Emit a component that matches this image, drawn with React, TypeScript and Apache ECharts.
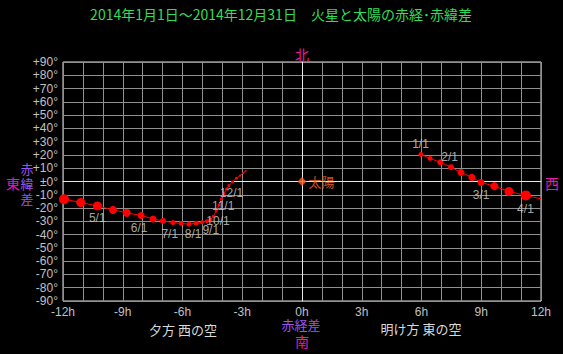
import React, { useEffect, useRef } from "react";
import * as echarts from "echarts";

// Morning sky (east): 2014/1/1 .. 4/1, every 10 days, plus edge wrap point
const morningX = [5.97, 6.43, 6.95, 7.48, 7.98, 8.53, 8.99, 9.66, 10.39, 11.24, 12];
const morningY = [20.4, 17.4, 14.4, 10.8, 6.8, 3.1, -0.7, -3.5, -7.5, -10.5, -13.1];
const morningDiam = [5, 5, 6, 6, 7, 7, 7, 8, 9, 10, 0];

// Evening sky (west): 2014/4/11 .. 12/27, every 10 days
const eveningX = [
  -11.95, -11.11, -10.27, -9.49, -8.8, -8.08, -7.48, -6.98, -6.48, -6.07, -5.67, -5.31, -5.01, -4.78,
  -4.6, -4.45, -4.31, -4.17, -4.04, -3.92, -3.79, -3.67, -3.49, -3.29, -3.11, -2.96, -2.83,
];
const eveningY = [
  -13.3, -15.8, -18.4, -21.4, -23.6, -25.6, -28.2, -29.7, -30.9, -31.6, -32.1, -31.4, -30.7, -29.9,
  -28.6, -26.3, -22.2, -17.7, -13.2, -9.1, -5.7, -3.1, -0.3, 2.5, 4.4, 6.3, 7.8,
];
const eveningDiam = [
  10, 9, 9, 8, 8, 7, 7, 6, 5, 5, 5, 5, 4, 4,
  4, 3, 3, 3, 3, 3, 3, 3, 3, 3, 2, 2, 2,
];

// Date labels
const dateText = ["1/1", "2/1", "3/1", "4/1", "5/1", "6/1", "7/1", "8/1", "9/1", "10/1", "11/1", "12/1"];
const dateX = [5.95, 7.41, 8.99, 11.22, -10.28, -8.18, -6.64, -5.47, -4.58, -4.22, -3.96, -3.54];
const dateY = [28.2, 18.4, -9.8, -20.4, -27.5, -34.9, -39.2, -39.2, -36.7, -29.7, -18.3, -8.3];

const sunPos = [0, 0];

const xTicks = { min: -12, max: 12, step: 1, labelEvery: 3 };
const yTicks = { min: -90, max: 90, step: 10 };

const TITLE = "2014年1月1日～2014年12月31日　火星と太陽の赤経･赤緯差";

export default function App() {
  const ref = useRef<HTMLDivElement>(null);
  useEffect(() => {
    if (!ref.current) return;
    const chart = echarts.init(ref.current, undefined, { renderer: "svg" });
    const jp = "'Noto Sans CJK JP', sans-serif";
    const lat = "'Liberation Sans', Arial, sans-serif";
    const red = "#ff0000";
    const txt = (text: string, x: number, y: number, fill: string, size = 13) => ({
      type: "text",
      x,
      y,
      style: { text, fill, font: `${size}px ${jp}`, textAlign: "center", textVerticalAlign: "middle" },
      z: 100,
    });
    chart.setOption({
      animation: false,
      backgroundColor: "#000000",
      grid: { left: 63, top: 62, width: 478, height: 239, show: true, borderColor: "#e0e0e0", borderWidth: 1 },
      xAxis: {
        type: "value",
        min: xTicks.min,
        max: xTicks.max,
        interval: xTicks.step,
        axisLine: { show: true, lineStyle: { color: "#e0e0e0" } },
        axisTick: { show: false },
        splitLine: { show: true, lineStyle: { color: "#909090", width: 1 } },
        axisLabel: {
          color: "#c0c0c0",
          fontFamily: lat,
          fontSize: 12,
          margin: 5,
          formatter: (v: number) => (Math.round(v) % xTicks.labelEvery === 0 ? `${Math.round(v)}h` : ""),
        },
      },
      yAxis: {
        type: "value",
        min: yTicks.min,
        max: yTicks.max,
        interval: yTicks.step,
        axisLine: { show: true, lineStyle: { color: "#e0e0e0" } },
        axisTick: { show: false },
        splitLine: { show: true, lineStyle: { color: "#909090", width: 1 } },
        axisLabel: {
          color: "#c0c0c0",
          fontFamily: lat,
          fontSize: 12,
          margin: 5,
          formatter: (v: number) => (v > 0 ? `+${v}°` : v === 0 ? "±0°" : `${v}°`),
        },
      },
      series: [
        {
          type: "line",
          data: morningX.map((x, i) => [x, morningY[i], morningDiam[i]]),
          symbol: "circle",
          symbolSize: (v: number[]) => v[2],
          showAllSymbol: true,
          lineStyle: { color: red, width: 1 },
          itemStyle: { color: red },
          z: 5,
          markLine: {
            silent: true,
            symbol: "none",
            label: { show: false },
            lineStyle: { color: "#e8e8e8", width: 1, type: "solid" },
            data: [{ xAxis: 0 }, { yAxis: 0 }],
            z: 3,
          },
        },
        {
          type: "line",
          data: eveningX.map((x, i) => [x, eveningY[i], eveningDiam[i]]),
          symbol: "circle",
          symbolSize: (v: number[]) => v[2],
          showAllSymbol: true,
          lineStyle: { color: red, width: 1 },
          itemStyle: { color: red },
          z: 5,
        },
        {
          type: "scatter",
          data: [sunPos],
          symbol: "diamond",
          symbolSize: 9,
          itemStyle: { color: "#ff5a1e" },
          label: {
            show: true,
            position: "right",
            distance: 2,
            formatter: "太陽",
            color: "#ff6a2a",
            fontFamily: jp,
            fontSize: 13,
          },
          z: 6,
        },
        {
          type: "scatter",
          data: dateText.map((t, i) => ({ name: t, value: [dateX[i], dateY[i]] })),
          symbolSize: 0,
          label: {
            show: true,
            position: "inside",
            formatter: "{b}",
            color: "#d0d0d0",
            fontFamily: lat,
            fontSize: 12,
          },
          z: 7,
        },
      ],
      graphic: [
        txt(TITLE, 281, 14, "#33dd55", 14),
        txt("北", 302, 54, "#e619b4", 14),
        txt("南", 302, 341, "#e619b4", 14),
        txt("赤経差", 301, 324, "#9a55f0", 13),
        txt("西", 552, 183, "#e619b4", 14),
        txt("東", 13, 183, "#e619b4", 14),
        txt("赤", 27, 168, "#9a55f0", 13),
        txt("緯", 27, 183, "#9a55f0", 13),
        txt("差", 27, 198, "#9a55f0", 13),
        txt("夕方 西の空", 183, 329, "#d8d8d8", 13),
        txt("明け方 東の空", 421, 328, "#d8d8d8", 13),
      ],
    });
    return () => chart.dispose();
  }, []);
  return (
    <div
      ref={ref}
      style={{ position: "absolute", left: 0, top: 0, width: 563, height: 354, background: "#000" }}
    />
  );
}
